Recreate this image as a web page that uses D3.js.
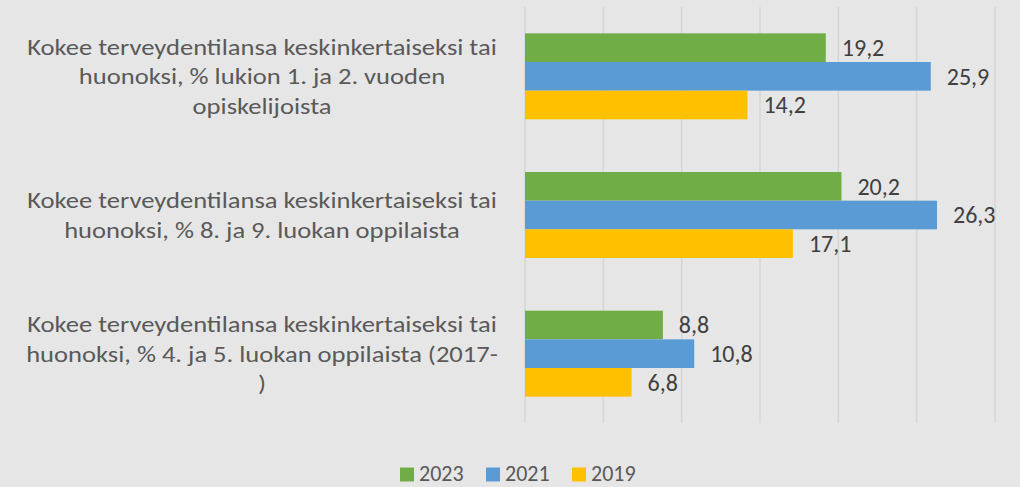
<!doctype html>
<html lang="fi">
<head>
<meta charset="utf-8">
<title>Kokee terveydentilansa</title>
<style>
  body { margin: 0; background: #e7e6e6; }
  svg text { font-family: Calibri, Carlito, "Open Sans", sans-serif; }
</style>
</head>
<body>
<script src="https://cdnjs.cloudflare.com/ajax/libs/d3/7.8.5/d3.min.js"></script>
<script>
// categories, top to bottom (line breaks as in the picture)
var categories = [
  "Kokee terveydentilansa keskinkertaiseksi tai\nhuonoksi, % lukion 1. ja 2. vuoden\nopiskelijoista",
  "Kokee terveydentilansa keskinkertaiseksi tai\nhuonoksi, % 8. ja 9. luokan oppilaista",
  "Kokee terveydentilansa keskinkertaiseksi tai\nhuonoksi, % 4. ja 5. luokan oppilaista (2017-\n)"
];
var years = ["2023", "2021", "2019"];
var values2023 = [19.2, 20.2, 8.8];
var values2021 = [25.9, 26.3, 10.8];
var values2019 = [14.2, 17.1, 6.8];
var xTicks = [0, 5, 10, 15, 20, 25, 30];

var colors = { "2023": "#70ad47", "2021": "#5b9bd5", "2019": "#ffc000" };
var seriesValues = { "2023": values2023, "2021": values2021, "2019": values2019 };

var w = 1020, h = 487;

var svg = d3.select("body").append("svg")
  .attr("width", w)
  .attr("height", h);

svg.append("rect").attr("width", w).attr("height", h).attr("fill", "#e7e6e6");

var x = d3.scaleLinear().domain([0, 30]).range([525, 995]);
var y0 = d3.scaleBand().domain(categories).range([7, 423]).padding(0);
var groupH = y0.bandwidth() * 0.62;
var y1 = d3.scaleBand().domain(years)
  .range([(y0.bandwidth() - groupH) / 2, (y0.bandwidth() + groupH) / 2]);

// gridlines
svg.append("g").selectAll("line")
  .data(xTicks)
  .enter()
  .append("line")
  .attr("x1", function(d) { return x(d); })
  .attr("x2", function(d) { return x(d); })
  .attr("y1", 7)
  .attr("y2", 423)
  .attr("stroke", "#d6d6d6")
  .attr("stroke-width", 1.5);

// rows
var rows = [];
categories.forEach(function(c, i) {
  years.forEach(function(yr) {
    rows.push({ cat: c, year: yr, value: seriesValues[yr][i] });
  });
});

svg.append("g").selectAll("rect")
  .data(rows)
  .enter()
  .append("rect")
  .attr("x", x(0))
  .attr("y", function(d) { return y0(d.cat) + y1(d.year); })
  .attr("width", function(d) { return x(d.value) - x(0); })
  .attr("height", y1.bandwidth())
  .attr("fill", function(d) { return colors[d.year]; });

// data labels
svg.append("g").selectAll("text")
  .data(rows)
  .enter()
  .append("text")
  .attr("x", function(d) { return x(d.value) + 16; })
  .attr("y", function(d) { return y0(d.cat) + y1(d.year) + y1.bandwidth() / 2; })
  .attr("dy", "0.35em")
  .attr("fill", "#404040")
  .style("font-size", "24px")
  .text(function(d) { return d3.format(".1f")(d.value).replace(".", ","); });

// category labels (the original is a bit stretched sideways)
var lineH = 29.5;
svg.append("g").selectAll("text")
  .data(categories)
  .enter()
  .append("text")
  .attr("text-anchor", "middle")
  .attr("transform", "translate(262,0) scale(1.155,1)")
  .attr("fill", "#595959")
  .style("font-size", "23px")
  .each(function(c) {
    var lines = c.split("\n");
    var cy = y0(c) + y0.bandwidth() / 2;
    var t = d3.select(this);
    lines.forEach(function(l, j) {
      t.append("tspan")
        .attr("x", 0)
        .attr("y", cy + (j - (lines.length - 1) / 2) * lineH)
        .attr("dy", "0.35em")
        .text(l);
    });
  });

// legend
var legend = svg.append("g");
var items = [
  { year: "2023", x: 400 },
  { year: "2021", x: 486 },
  { year: "2019", x: 572 }
];
var li = legend.selectAll("g")
  .data(items)
  .enter()
  .append("g")
  .attr("transform", function(d) { return "translate(" + d.x + ",467.5)"; });
li.append("rect")
  .attr("width", 14)
  .attr("height", 14)
  .attr("fill", function(d) { return colors[d.year]; });
li.append("text")
  .attr("x", 19)
  .attr("y", 13.5)
  .attr("fill", "#595959")
  .style("font-size", "22px")
  .text(function(d) { return d.year; });
</script>
</body>
</html>
